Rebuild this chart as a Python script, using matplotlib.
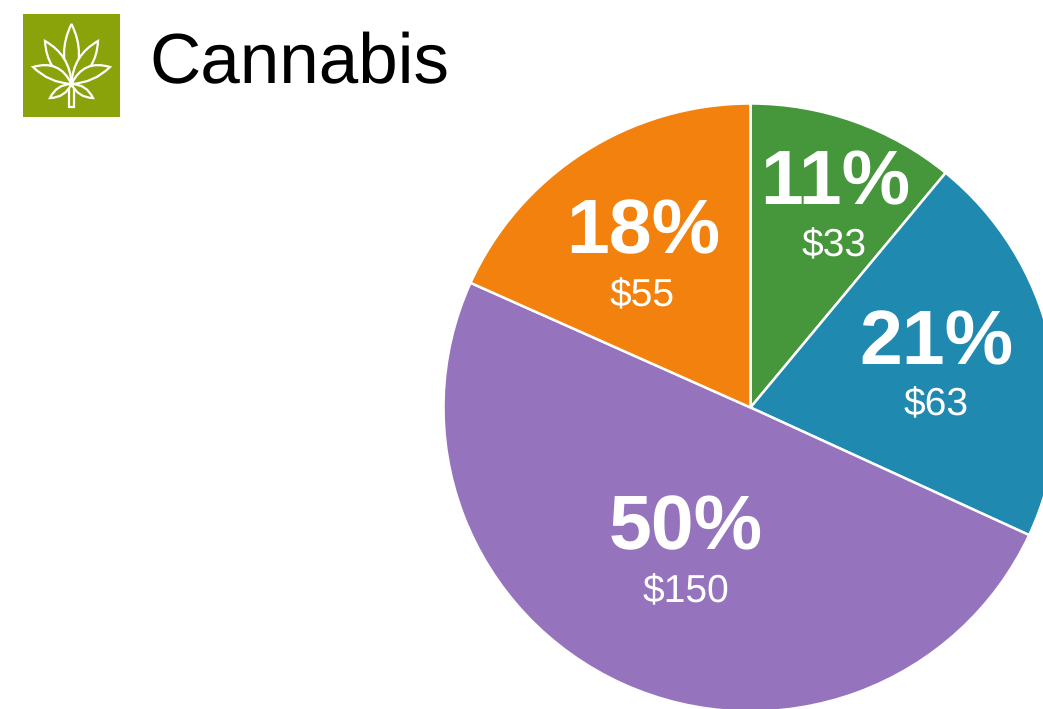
import matplotlib
matplotlib.use("Agg")
import matplotlib.pyplot as plt
from matplotlib.patches import Rectangle, PathPatch
from matplotlib.path import Path
import numpy as np

plt.rcParams['font.family'] = ['Liberation Sans', 'DejaVu Sans']
plt.rcParams['text.hinting'] = 'no_hinting'
plt.rcParams['text.hinting_factor'] = 1

W, H = 1043, 709

# Slices clockwise from 12 o'clock
shares = [11, 21, 50, 18]
dollars = [33, 63, 150, 55]
colors = ["#46963c", "#2089af", "#9574bd", "#f3810e"]
pct_labels = ["11%", "21%", "50%", "18%"]
dollar_labels = ["$33", "$63", "$150", "$55"]

fig = plt.figure(figsize=(W / 100, H / 100), dpi=100)
ax = fig.add_axes([0, 0, 1, 1])
ax.set_xlim(0, W)
ax.set_ylim(H, 0)
ax.axis("off")

# Pie, in its own axes so the library computes the wedges
cx, cy, rx, ry = 750.5, 407.5, 307, 304
pie_ax = fig.add_axes([(cx - rx) / W, 1 - (cy + ry) / H, 2 * rx / W, 2 * ry / H])
pie_ax.pie(dollars, colors=colors, startangle=90, counterclock=False, radius=1,
           wedgeprops=dict(edgecolor="white", linewidth=1.8))
pie_ax.set_xlim(-1, 1)
pie_ax.set_ylim(-1, 1)
pie_ax.set_aspect("auto")
for a in pie_ax.patches:
    a.set_clip_on(False)

# Slice labels
pct_pos = [(835, 184), (936, 344), (686, 529), (643, 233)]
usd_pos = [(834, 246), (936, 405), (686, 592), (642, 296)]
for (x, y), t in zip(pct_pos, pct_labels):
    ax.text(x, y, t, color="white", fontsize=55.5, fontweight="bold", ha="center", va="center", zorder=5)
for (x, y), t in zip(usd_pos, dollar_labels):
    ax.text(x, y, t, color="white", fontsize=28, ha="center", va="center", zorder=5)
ax.set_zorder(3)
ax.patch.set_alpha(0)

# Title and icon
ax.add_patch(Rectangle((23, 14), 97, 103, color="#8ba30b", lw=0))
ax.text(149.5, 65, "Cannabis", fontsize=51.2, color="black", ha="left", va="center")


def leaf(tip, width, bend=0, base=(71.5, 84)):
    # two curved sides from the base of the leaf to its tip
    base = np.array(base, dtype=float)
    tip = np.array(tip, dtype=float)
    d = tip - base
    n = np.array([d[1], -d[0]]) / np.hypot(*d)
    c1 = base + d * 0.5 + n * (width + bend)
    c2 = base + d * 0.5 - n * (width - bend)
    verts = [base, c1, tip, c2, base]
    codes = [Path.MOVETO, Path.CURVE3, Path.CURVE3, Path.CURVE3, Path.CURVE3]
    ax.add_patch(PathPatch(Path(verts, codes), fc="#8ba30b", ec="white", lw=1.6, zorder=4))


leaf((71.5, 24), 15)
leaf((45, 41), 14)
leaf((98, 41), 14)
leaf((33, 67), 13, bend=-5)
leaf((110, 67), 13, bend=5)
leaf((50, 98), 8)
leaf((93, 98), 8)
ax.add_patch(Rectangle((69, 86), 5, 21, fc="#8ba30b", ec="white", lw=1.6, zorder=3))

fig.savefig("out.png", dpi=100)
